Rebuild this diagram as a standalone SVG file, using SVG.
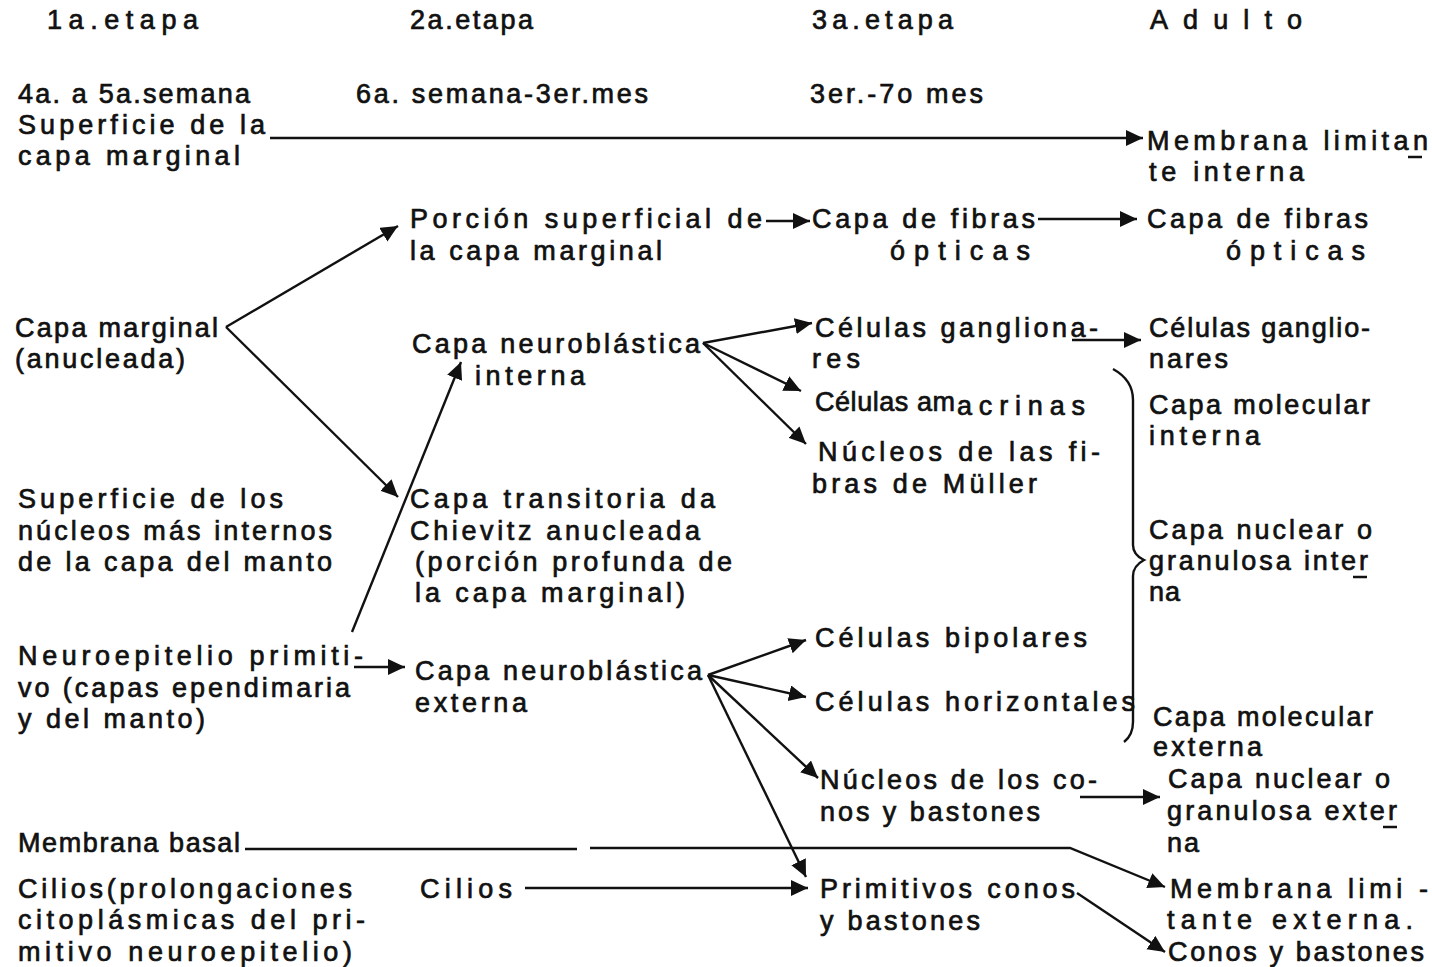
<svg xmlns="http://www.w3.org/2000/svg" width="1432" height="967" viewBox="0 0 1432 967">
<style>
text{font-family:"Liberation Sans","DejaVu Sans",sans-serif;font-size:27px;fill:#111;stroke:#111;stroke-width:0.7}
.c{fill:none;stroke:#111;stroke-width:2.4}
.u{stroke:#111;stroke-width:2.5}
</style>
<defs>
<marker id="ah" markerUnits="userSpaceOnUse" markerWidth="20" markerHeight="18" refX="17" refY="8" orient="auto">
<path d="M0,0 L17,8 L0,16 z" fill="#111"/>
</marker>
</defs>
<rect width="1432" height="967" fill="#fff"/>
<g id="headers">
<text x="47" y="29" textLength="151" lengthAdjust="spacing">1a.etapa</text>
<text x="410" y="29" textLength="123" lengthAdjust="spacing">2a.etapa</text>
<text x="812" y="29" textLength="141" lengthAdjust="spacing">3a.etapa</text>
<text x="1150" y="29" textLength="152" lengthAdjust="spacing">Adulto</text>
</g>
<g id="periods">
<text x="18" y="103" textLength="232" lengthAdjust="spacing">4a. a 5a.semana</text>
<text x="356" y="103" textLength="292" lengthAdjust="spacing">6a. semana-3er.mes</text>
<text x="810" y="103" textLength="173" lengthAdjust="spacing">3er.-7o mes</text>
</g>
<g id="sup-capa-marginal">
<text x="18" y="134" textLength="247" lengthAdjust="spacing">Superficie de la</text>
<text x="18" y="165" textLength="222" lengthAdjust="spacing">capa marginal</text>
</g>
<g id="membrana-limitante-interna">
<text x="1147" y="150" textLength="281" lengthAdjust="spacing">Membrana limitan</text>
<line class="u" x1="1408" y1="157" x2="1422" y2="157"/>
<text x="1149" y="181" textLength="155" lengthAdjust="spacing">te interna</text>
</g>
<g id="porcion-superficial">
<text x="410" y="228" textLength="352" lengthAdjust="spacing">Porción superficial de</text>
<text x="410" y="260" textLength="252" lengthAdjust="spacing">la capa marginal</text>
</g>
<g id="fibras-opticas-3">
<text x="812" y="228" textLength="223" lengthAdjust="spacing">Capa de fibras</text>
<text x="890" y="260" textLength="140" lengthAdjust="spacing">ópticas</text>
</g>
<g id="fibras-opticas-adulto">
<text x="1147" y="228" textLength="221" lengthAdjust="spacing">Capa de fibras</text>
<text x="1226" y="260" textLength="139" lengthAdjust="spacing">ópticas</text>
</g>
<g id="capa-marginal">
<text x="15" y="337" textLength="203" lengthAdjust="spacing">Capa marginal</text>
<text x="15" y="368" textLength="170" lengthAdjust="spacing">(anucleada)</text>
</g>
<g id="neuroblastica-interna">
<text x="412" y="353" textLength="288" lengthAdjust="spacing">Capa neuroblástica</text>
<text x="475" y="385" textLength="110" lengthAdjust="spacing">interna</text>
</g>
<g id="ganglionares-3">
<text x="815" y="337" textLength="283" lengthAdjust="spacing">Células gangliona-</text>
<text x="812" y="368" textLength="48" lengthAdjust="spacing">res</text>
</g>
<g id="ganglionares-adulto">
<text x="1149" y="337" textLength="221" lengthAdjust="spacing">Células ganglio-</text>
<text x="1149" y="368" textLength="79" lengthAdjust="spacing">nares</text>
</g>
<g id="amacrinas">
<text x="815" y="411" textLength="140" lengthAdjust="spacing">Células am</text>
<text x="957" y="415" textLength="128" lengthAdjust="spacing">acrinas</text>
</g>
<g id="molecular-interna">
<text x="1149" y="414" textLength="221" lengthAdjust="spacing">Capa molecular</text>
<text x="1149" y="445" textLength="111" lengthAdjust="spacing">interna</text>
</g>
<g id="muller">
<text x="818" y="461" textLength="282" lengthAdjust="spacing">Núcleos de las fi-</text>
<text x="812" y="493" textLength="225" lengthAdjust="spacing">bras de Müller</text>
</g>
<g id="sup-nucleos">
<text x="18" y="508" textLength="265" lengthAdjust="spacing">Superficie de los</text>
<text x="18" y="540" textLength="314" lengthAdjust="spacing">núcleos más internos</text>
<text x="18" y="571" textLength="314" lengthAdjust="spacing">de la capa del manto</text>
</g>
<g id="chievitz">
<text x="410" y="508" textLength="305" lengthAdjust="spacing">Capa transitoria da</text>
<text x="410" y="540" textLength="290" lengthAdjust="spacing">Chievitz anucleada</text>
<text x="415" y="571" textLength="317" lengthAdjust="spacing">(porción profunda de</text>
<text x="415" y="602" textLength="270" lengthAdjust="spacing">la capa marginal)</text>
</g>
<g id="nuclear-interna">
<text x="1149" y="539" textLength="223" lengthAdjust="spacing">Capa nuclear o</text>
<text x="1149" y="570" textLength="219" lengthAdjust="spacing">granulosa inter</text>
<line class="u" x1="1353" y1="577" x2="1367" y2="577"/>
<text x="1149" y="601" textLength="31" lengthAdjust="spacing">na</text>
</g>
<g id="neuroepitelio">
<text x="18" y="665" textLength="345" lengthAdjust="spacing">Neuroepitelio primiti-</text>
<text x="18" y="697" textLength="332" lengthAdjust="spacing">vo (capas ependimaria</text>
<text x="18" y="728" textLength="187" lengthAdjust="spacing">y del manto)</text>
</g>
<g id="neuroblastica-externa">
<text x="415" y="680" textLength="287" lengthAdjust="spacing">Capa neuroblástica</text>
<text x="415" y="712" textLength="112" lengthAdjust="spacing">externa</text>
</g>
<g id="bipolares">
<text x="815" y="647" textLength="272" lengthAdjust="spacing">Células bipolares</text>
</g>
<g id="horizontales">
<text x="815" y="711" textLength="320" lengthAdjust="spacing">Células horizontales</text>
</g>
<g id="molecular-externa">
<text x="1153" y="726" textLength="220" lengthAdjust="spacing">Capa molecular</text>
<text x="1153" y="756" textLength="109" lengthAdjust="spacing">externa</text>
</g>
<g id="conos-bastones-nucleos">
<text x="820" y="789" textLength="277" lengthAdjust="spacing">Núcleos de los co-</text>
<text x="820" y="821" textLength="220" lengthAdjust="spacing">nos y bastones</text>
</g>
<g id="nuclear-externa">
<text x="1168" y="788" textLength="222" lengthAdjust="spacing">Capa nuclear o</text>
<text x="1167" y="820" textLength="230" lengthAdjust="spacing">granulosa exter</text>
<line class="u" x1="1383" y1="827" x2="1397" y2="827"/>
<text x="1167" y="852" textLength="32" lengthAdjust="spacing">na</text>
</g>
<g id="membrana-basal">
<text x="18" y="852" textLength="222" lengthAdjust="spacing">Membrana basal</text>
</g>
<g id="membrana-limitante-externa">
<text x="1170" y="898" textLength="258" lengthAdjust="spacing">Membrana limi -</text>
<text x="1167" y="929" textLength="246" lengthAdjust="spacing">tante externa.</text>
</g>
<g id="conos-bastones-adulto">
<text x="1168" y="961" textLength="256" lengthAdjust="spacing">Conos y bastones</text>
</g>
<g id="cilios-1">
<text x="18" y="898" textLength="334" lengthAdjust="spacing">Cilios(prolongaciones</text>
<text x="18" y="929" textLength="347" lengthAdjust="spacing">citoplásmicas del pri-</text>
<text x="18" y="961" textLength="334" lengthAdjust="spacing">mitivo neuroepitelio)</text>
</g>
<g id="cilios-2">
<text x="420" y="898" textLength="92" lengthAdjust="spacing">Cilios</text>
</g>
<g id="primitivos-conos">
<text x="820" y="898" textLength="255" lengthAdjust="spacing">Primitivos conos</text>
<text x="820" y="930" textLength="160" lengthAdjust="spacing">y bastones</text>
</g>
<g id="connectors">
<path class="c" d="M270,138 H1143" marker-end="url(#ah)"/>
<path class="c" d="M766,221 H810" marker-end="url(#ah)"/>
<path class="c" d="M1038,219 H1137" marker-end="url(#ah)"/>
<path class="c" d="M226,327 L398,226" marker-end="url(#ah)"/>
<path class="c" d="M226,327 L398,497" marker-end="url(#ah)"/>
<path class="c" d="M352,632 L461,362" marker-end="url(#ah)"/>
<path class="c" d="M354,667 H405" marker-end="url(#ah)"/>
<path class="c" d="M703,343 L812,323" marker-end="url(#ah)"/>
<path class="c" d="M703,343 L801,391" marker-end="url(#ah)"/>
<path class="c" d="M703,343 L806,444" marker-end="url(#ah)"/>
<path class="c" d="M1072,340 H1141" marker-end="url(#ah)"/>
<path class="c" d="M708,675 L806,640" marker-end="url(#ah)"/>
<path class="c" d="M708,675 L806,697" marker-end="url(#ah)"/>
<path class="c" d="M708,675 L818,778" marker-end="url(#ah)"/>
<path class="c" d="M708,675 L806,877" marker-end="url(#ah)"/>
<path class="c" d="M1080,797 H1160" marker-end="url(#ah)"/>
<path class="c" d="M245,849 H577"/>
<path class="c" d="M590,848 H1070 L1165,887" marker-end="url(#ah)"/>
<path class="c" d="M525,888 H808" marker-end="url(#ah)"/>
<path class="c" d="M1077,893 L1165,952" marker-end="url(#ah)"/>
<path class="c" d="M1113,369 Q1133,380 1133,400 L1133,545 Q1133,555 1144,560 Q1133,566 1133,576 L1133,722 Q1133,735 1124,742"/>
</g>
</svg>
